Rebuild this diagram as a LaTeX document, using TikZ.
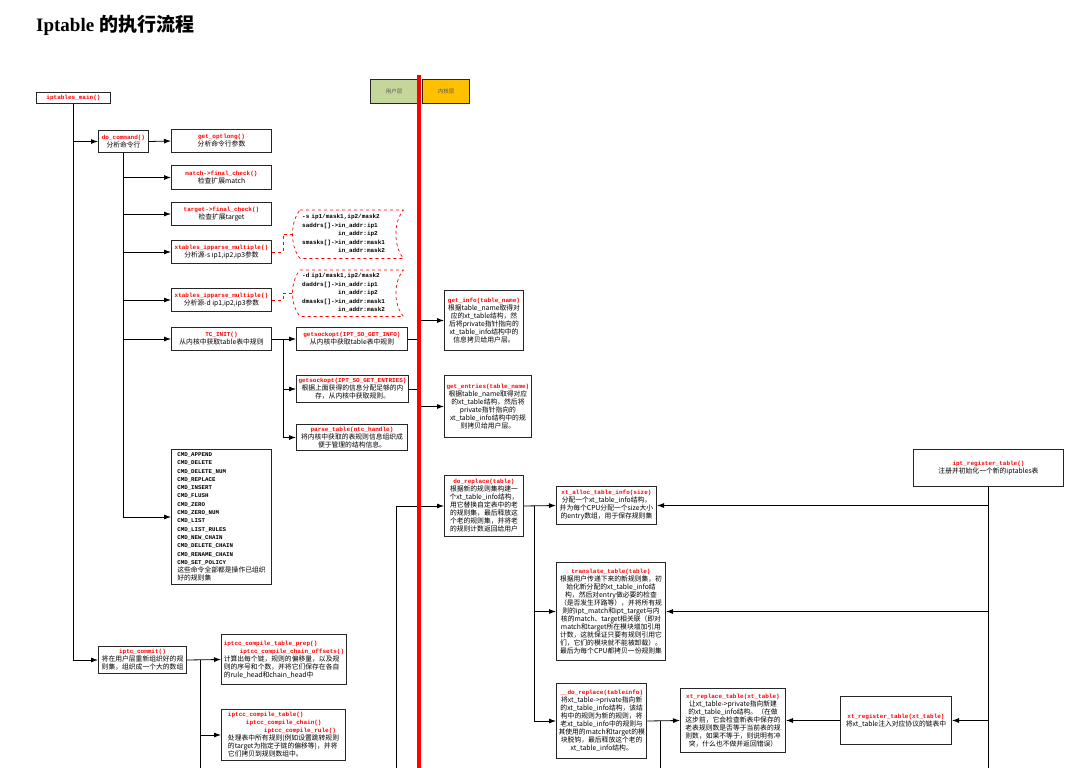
\documentclass[tikz,border=0pt]{standalone}
\usepackage{fontspec}
\setmainfont{Noto Sans CJK SC}
\setmonofont{Liberation Mono}
\newfontfamily\titlefont{Liberation Serif}
\usetikzlibrary{arrows.meta,calc}

\definecolor{userg}{HTML}{C4D79B}
\definecolor{kernelo}{HTML}{FFC000}

\newcommand{\cnsize}{\fontsize{6.8}{8}\selectfont}
\newcommand{\fname}[1]{{\ttfamily\bfseries\fontsize{6}{8}\selectfont\color{red}#1}}
% scroll shape round a node of stored data
\newcommand{\storedata}[1]{%
  \draw[datastore] (#1.north west) -- (#1.north east)
    .. controls ($(#1.north east)+(-10,12)$) and ($(#1.south east)+(-10,-12)$) .. (#1.south east)
    -- (#1.south west)
    .. controls ($(#1.south west)+(-10,-12)$) and ($(#1.north west)+(-10,12)$) .. (#1.north west);}

\begin{document}
\begin{tikzpicture}[
    x=1pt, y=-1pt,
    fnbox/.style={draw=black!85, line width=1pt, fill=white, anchor=north west,
                  inner sep=2pt, align=center, font=\cnsize},
    layer/.style={draw=black!85, line width=1pt, anchor=north west, inner sep=0pt,
                  minimum width=47, minimum height=24, text=black!65,
                  font=\fontsize{5.5}{7}\selectfont},
    datanode/.style={anchor=north west, inner sep=2pt, align=left, text width=99,
                     font=\ttfamily\bfseries\fontsize{6}{8.4}\selectfont},
    datastore/.style={draw=red, dashed, line width=0.7pt},
    optline/.style={draw=red, dashed, line width=0.8pt},
    link/.style={draw, line width=0.8pt, -{Latex[length=7pt,width=5pt]}},
    bus/.style={draw, line width=0.8pt},
    divider/.style={draw=red, line width=4pt},
  ]
  \useasboundingbox (0,0) rectangle (1080,768);
  \coordinate (bottom) at (0,768);

  \node[anchor=base west, inner sep=0pt] (title) at (36,32)
    {\fontsize{19}{22}\selectfont\titlefont\bfseries Iptable {\rmfamily 的执行流程}};

  % layers
  \node[layer, fill=userg] (user) at (370,79) {用户层};
  \node[layer, fill=kernelo] (kernel) at (422,79) {内核层};

  % user space
  \node[fnbox, minimum width=74, minimum height=11, inner sep=1pt] (main) at (36,92) {\fname{iptables\_main()}};
  \node[fnbox, minimum width=50, minimum height=22] (docmd) at (98,130) {\fname{do\_command()}\\分析命令行};
  \node[fnbox, minimum width=100, minimum height=23] (getopt) at (171,129) {\fname{get\_optlong()}\\分析命令行参数};
  \node[fnbox, minimum width=100, minimum height=24] (match) at (171,165) {\fname{match->final\_check()}\\检查扩展match};
  \node[fnbox, minimum width=100, minimum height=23] (target) at (171,202) {\fname{target->final\_check()}\\检查扩展target};
  \node[fnbox, minimum width=100, minimum height=23] (parsesrc) at (171,240) {\fname{xtables\_ipparse\_multiple()}\\分析源-s ip1,ip2,ip3参数};
  \node[fnbox, minimum width=100, minimum height=23] (parsedst) at (171,288) {\fname{xtables\_ipparse\_multiple()}\\分析源-d ip1,ip2,ip3参数};
  \node[datanode, minimum height=48] (srcdata) at (300,210)
    {-s ip1/mask1,ip2/mask2\\saddrs[]->in\_addr:ip1\\\phantom{saddrs[]->}in\_addr:ip2\\smasks[]->in\_addr:mask1\\\phantom{smasks[]->}in\_addr:mask2};
  \node[datanode, minimum height=46] (dstdata) at (300,270)
    {-d ip1/mask1,ip2/mask2\\daddrs[]->in\_addr:ip1\\\phantom{daddrs[]->}in\_addr:ip2\\dmasks[]->in\_addr:mask1\\\phantom{dmasks[]->}in\_addr:mask2};
  \node[fnbox, minimum width=100, minimum height=23] (tcinit) at (171,327) {\fname{TC\_INIT()}\\从内核中获取table表中规则};
  \node[fnbox, minimum width=111, minimum height=23] (gsinfo) at (296,327) {\fname{getsockopt(IPT\_SO\_GET\_INFO)}\\从内核中获取table表中规则};
  \node[fnbox, minimum width=111, minimum height=27] (gsent) at (296,375) {\fname{getsockopt(IPT\_SO\_GET\_ENTRIES)}\\根据上面获得的信息分配足够的内\\存，从内核中获取规则。};
  \node[fnbox, minimum width=111, minimum height=26] (parsetbl) at (296,424) {\fname{parse\_table(ntc\_handle)}\\将内核中获取的表规则信息组织成\\便于管理的结构信息。};
  \node[fnbox, align=left, minimum width=100, minimum height=135,
        font=\ttfamily\bfseries\fontsize{5.8}{8.3}\selectfont] (cmdlist) at (171,449)
    {CMD\_APPEND\\CMD\_DELETE\\CMD\_DELETE\_NUM\\CMD\_REPLACE\\CMD\_INSERT\\CMD\_FLUSH\\CMD\_ZERO\\CMD\_ZERO\_NUM\\CMD\_LIST\\CMD\_LIST\_RULES\\CMD\_NEW\_CHAIN\\CMD\_DELETE\_CHAIN\\CMD\_RENAME\_CHAIN\\CMD\_SET\_POLICY\\{\rmfamily\mdseries\cnsize 这些命令全部都是操作已组织}\\{\rmfamily\mdseries\cnsize 好的规则集}};
  \node[fnbox, minimum width=88, minimum height=27] (commit) at (98,646) {\fname{iptc\_commit()}\\将在用户层重新组织好的规\\则集，组织成一个大的数组};
  \node[fnbox, align=left, minimum width=125, minimum height=50] (prep) at (221,634)
    {\fname{iptcc\_compile\_table\_prep()}\\\hspace*{16pt}\fname{iptcc\_compile\_chain\_offsets()}\\计算出每个链，规则的偏移量，以及规\\则的序号和个数，并将它们保存在各自\\的rule\_head和chain\_head中};
  \node[fnbox, align=left, minimum width=124, minimum height=51] (ctable) at (221,709)
    {\fname{iptcc\_compile\_table()}\\\hspace*{18pt}\fname{iptcc\_compile\_chain()}\\\hspace*{36pt}\fname{iptcc\_compile\_rule()}\\处理表中所有规则(例如设置跳转规则\\的target为指定子链的偏移等)，并将\\它们拷贝到规则数组中。};

  % kernel space
  \node[fnbox, minimum width=79, minimum height=60] (getinfo) at (444,290) {\fname{get\_info(table\_name)}\\根据table\_name取得对\\应的xt\_table结构，然\\后将private指针指向的\\xt\_table\_info结构中的\\信息拷贝给用户层。};
  \node[fnbox, minimum width=86, minimum height=62] (getent) at (444,375) {\fname{get\_entries(table\_name)}\\根据table\_name取得对应\\的xt\_table结构，然后将\\private指针指向的\\xt\_table\_info结构中的规\\则拷贝给用户层。};
  \node[fnbox, minimum width=79, minimum height=61] (doreplace) at (444,475) {\fname{do\_replace(table)}\\根据新的规则集构建一\\个xt\_table\_info结构，\\用它替换自定表中的老\\的规则集，最后释放这\\个老的规则集，并将老\\的规则计数返回给用户};
  \node[fnbox, minimum width=100, minimum height=38] (alloc) at (556,486) {\fname{xt\_alloc\_table\_info(size)}\\分配一个xt\_table\_info结构，\\并为每个CPU分配一个size大小\\的entry数组，用于保存规则集};
  \node[fnbox, minimum width=109, minimum height=98] (translate) at (556,562) {\fname{translate\_table(table)}\\根据用户传递下来的新规则集，初\\始化新分配的xt\_table\_info结\\构，然后对entry做必要的检查\\（是否发生环路等），并将所有规\\则的ipt\_match和ipt\_target与内\\核的match、target相关联（即对\\match和target所在模块增加引用\\计数，这就保证只要有规则引用它\\们，它们的模块就不能被卸载）。\\最后为每个CPU都拷贝一份规则集};
  \node[fnbox, minimum width=87, minimum height=75] (dorep2) at (556,683) {\fname{\_\_do\_replace(tableinfo)}\\将xt\_table->private指向新\\的xt\_table\_info结构，该结\\构中的规则为新的规则，将\\老xt\_table\_info中的规则与\\其使用的match和target的模\\块脱钩，最后释放这个老的\\xt\_table\_info结构。};
  \node[fnbox, minimum width=105, minimum height=64] (xtreplace) at (680,688) {\fname{xt\_replace\_table(xt\_table)}\\让xt\_table->private指向新建\\的xt\_table\_info结构。（在做\\这步前，它会检查新表中保存的\\老表规则数是否等于当前表的规\\则数，如果不等于，则说明有冲\\突，什么也不做并返回错误）};
  \node[fnbox, minimum width=111, minimum height=48] (xtreg) at (840,696) {\fname{xt\_register\_table(xt\_table)}\\将xt\_table注入对应协议的链表中};
  \node[fnbox, minimum width=150, minimum height=37] (iptreg) at (913,449) {\fname{ipt\_register\_table()}\\注册并初始化一个新的iptables表};

  % user space connectors
  \draw[link] (main.south) |- (docmd.west);
  \draw[link] (main.south) |- (commit.west);
  \draw[link] (docmd.east) -- (getopt.west);
  \foreach \n in {match,target,parsesrc,parsedst,tcinit,cmdlist}
    \draw[link] (docmd.south) |- (\n.west);
  \draw[optline] (parsesrc.east) -- ++(11,0) |- ($(srcdata.west)+(-7,0)$);
  \draw[optline] (parsedst.east) -- ++(11,0) |- ($(dstdata.west)+(-7,0)$);
  \storedata{srcdata}
  \storedata{dstdata}
  \coordinate (tcsplit) at ($(tcinit.east)+(11,0)$);
  \draw[link] (tcinit.east) -- (gsinfo.west);
  \draw[link] (tcsplit) |- (gsent.west);
  \draw[link] (tcsplit) |- (parsetbl.west);
  \draw[link] (gsinfo.east) -- ++(11,0) |- (getinfo.west);
  \draw[link] (gsent.east) -- ++(11,0) |- (getent.west);
  \coordinate (csplit) at ($(commit.east)+(13,0)$);
  \draw[link] (commit.east) -- (prep.west);
  \draw[link] (csplit) |- (ctable.west);
  \draw[bus] (csplit) -- (csplit |- bottom);

  % kernel space connectors
  \coordinate (repbus) at (396,768);
  \draw[link] (repbus) |- (doreplace.west);
  \coordinate (rsplit) at ($(doreplace.east)+(10,0)$);
  \draw[link] (doreplace.east) -- (alloc.west);
  \draw[link] (rsplit) |- (translate.west);
  \draw[link] (rsplit) |- (dorep2.west);
  \coordinate (dsplit) at ($(dorep2.east)+(13,0)$);
  \draw[link] (dorep2.east) -- (xtreplace.west);
  \draw[bus] (dsplit) -- (dsplit |- bottom);
  \draw[link] (iptreg.south) |- (alloc.east);
  \draw[link] (iptreg.south) |- (translate.east);
  \draw[link] (iptreg.south) |- (xtreg.east);
  \draw[bus] (iptreg.south) -- (iptreg.south |- bottom);
  \draw[link] (xtreg.west) -- (xtreplace.east);

  % user / kernel boundary
  \coordinate (divtop) at (419,75);
  \draw[divider] (divtop) -- (divtop |- bottom);
\end{tikzpicture}
\end{document}
